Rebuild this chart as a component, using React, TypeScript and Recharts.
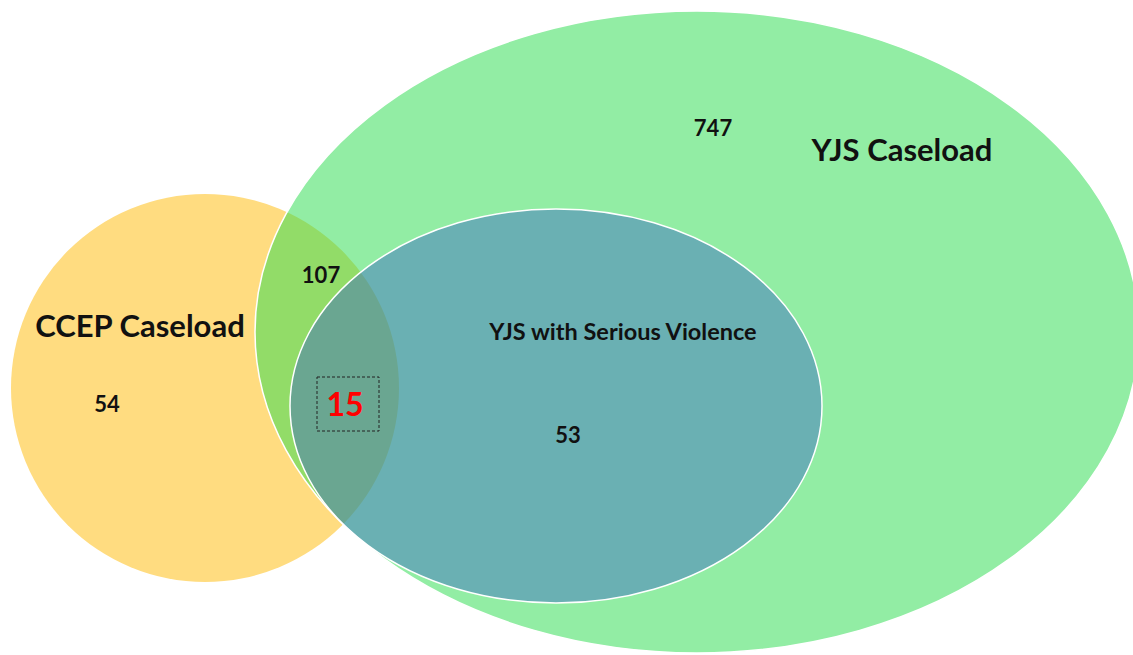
import { Scatter, ScatterChart, XAxis, YAxis } from "recharts";

const WIDTH = 1133;
const HEIGHT = 655;

// sets: centre and radii in chart units (0..1133 across, 0..655 down)
const setNames = ["CCEP Caseload", "YJS Caseload", "YJS with Serious Violence"];
const setCx = [205, 697, 556];
const setCy = [388, 332, 406];
const setRx = [194, 442, 266];
const setRy = [194, 321, 197];

// region counts and titles
const labelTexts = ["747", "YJS Caseload", "CCEP Caseload", "54", "107", "YJS with Serious Violence", "53", "15"];
const labelX = [713, 902, 140, 107, 321, 623, 568, 345];
const labelY = [128, 150, 326, 404, 275, 332, 435, 404];
const labelKind = ["count", "title", "title", "count", "count", "subtitle", "count", "highlight"];

const sets = setNames.map((name, i) => ({
  name,
  x: setCx[i],
  y: setCy[i],
  rx: setRx[i],
  ry: setRy[i],
}));

const labels = labelTexts.map((text, i) => ({
  text,
  x: labelX[i],
  y: labelY[i],
  kind: labelKind[i],
}));

const fills = [
  { fill: "#FFDC80", opacity: 1, stroke: "none" },
  { fill: "#31DD53", opacity: 0.53, stroke: "#ffffff" },
  { fill: "#355FC7", opacity: 0.43, stroke: "#ffffff" },
];

const textStyle: Record<string, { size: number; color: string }> = {
  count: { size: 22, color: "#111" },
  title: { size: 31, color: "#111" },
  subtitle: { size: 23.5, color: "#111" },
  highlight: { size: 32, color: "#FF0000" },
};

// chart units are pixels here (domain == plot size)
const sx = WIDTH / WIDTH;
const sy = HEIGHT / HEIGHT;

function SetShape(props: any) {
  const { cx, cy, payload, index } = props;
  const s = fills[index] ?? fills[0];
  return (
    <ellipse
      cx={cx}
      cy={cy}
      rx={payload.rx * sx}
      ry={payload.ry * sy}
      fill={s.fill}
      fillOpacity={s.opacity}
      stroke={s.stroke}
      strokeWidth={1.5}
    />
  );
}

function LabelShape(props: any) {
  const { cx, cy, payload } = props;
  const st = textStyle[payload.kind];
  return (
    <g>
      {payload.kind === "highlight" && (
        <rect
          x={cx - 28}
          y={cy - 27}
          width={62}
          height={54}
          fill="none"
          stroke="#222"
          strokeWidth={1}
          strokeDasharray="3 2"
        />
      )}
      <text
        x={cx}
        y={cy + st.size * 0.36}
        textAnchor="middle"
        fontFamily="Lato, 'Noto Sans', sans-serif"
        fontWeight={700}
        fontSize={st.size}
        fill={st.color}
      >
        {payload.text}
      </text>
    </g>
  );
}

export default function App() {
  return (
    <div style={{ position: "absolute", left: 0, top: 0, background: "#fff" }}>
      <ScatterChart width={WIDTH} height={HEIGHT} margin={{ top: 0, right: 0, bottom: 0, left: 0 }}>
        <XAxis type="number" dataKey="x" domain={[0, WIDTH]} hide allowDataOverflow />
        <YAxis type="number" dataKey="y" domain={[0, HEIGHT]} reversed hide allowDataOverflow />
        <Scatter data={sets} shape={SetShape} isAnimationActive={false} />
        <Scatter data={labels} shape={LabelShape} isAnimationActive={false} />
      </ScatterChart>
    </div>
  );
}
